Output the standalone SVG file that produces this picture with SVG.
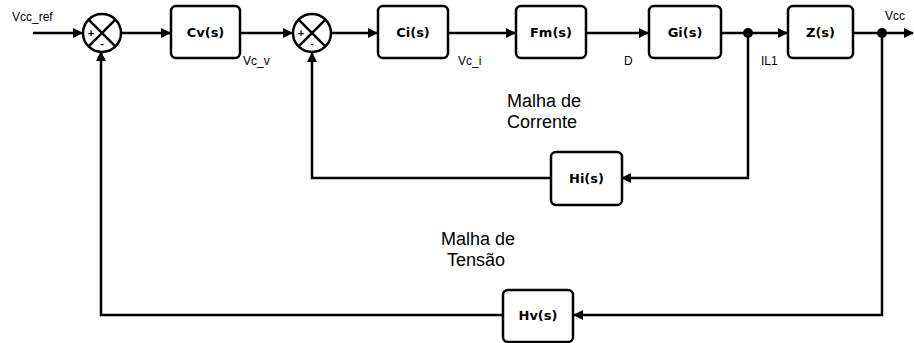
<svg xmlns="http://www.w3.org/2000/svg" width="914" height="343" viewBox="0 0 914 343">
<defs>
<style>
.box{fill:#fff;stroke:#000;stroke-width:2.5}
.sum{fill:#fff;stroke:#000;stroke-width:2.5}
.ln{fill:none;stroke:#000;stroke-width:2.5}
.bl{font-family:"DejaVu Sans",Verdana,sans-serif;font-weight:bold;font-size:13px;text-anchor:middle;fill:#000}
.sl{font-family:"Liberation Sans",Arial,sans-serif;font-size:12px;fill:#000}
.big{font-family:"Liberation Sans",Arial,sans-serif;font-size:18px;fill:#000}
.sign{font-family:"Liberation Sans",Arial,sans-serif;font-weight:bold;font-size:11px;text-anchor:middle;fill:#000}
</style>
<marker id="ah" markerWidth="10" markerHeight="10" refX="9" refY="5" orient="auto" markerUnits="userSpaceOnUse">
<path d="M0,0 L10,5 L0,10 Z" fill="#000"/>
</marker>
</defs>
<rect width="914" height="343" fill="#fff"/>

<g id="connectors">
<line class="ln" x1="33" y1="33" x2="82" y2="33" marker-end="url(#ah)"/>
<line class="ln" x1="121" y1="33" x2="170" y2="33" marker-end="url(#ah)"/>
<line class="ln" x1="240" y1="33" x2="292" y2="33" marker-end="url(#ah)"/>
<line class="ln" x1="332" y1="33" x2="377" y2="33" marker-end="url(#ah)"/>
<line class="ln" x1="448" y1="33" x2="515" y2="33" marker-end="url(#ah)"/>
<line class="ln" x1="586" y1="33" x2="648" y2="33" marker-end="url(#ah)"/>
<line class="ln" x1="721" y1="33" x2="787" y2="33" marker-end="url(#ah)"/>
<line class="ln" x1="853" y1="33" x2="913" y2="33" marker-end="url(#ah)"/>
<polyline class="ln" points="748,33 748,178 622,178" marker-end="url(#ah)"/>
<polyline class="ln" points="551,178 312,178 312,53" marker-end="url(#ah)"/>
<polyline class="ln" points="882,33 882,315 574,315" marker-end="url(#ah)"/>
<polyline class="ln" points="503,315 101,315 101,52" marker-end="url(#ah)"/>
<circle cx="748" cy="33" r="5" fill="#000"/>
<circle cx="882" cy="33" r="5" fill="#000"/>
</g>

<g id="sum1">
<circle class="sum" cx="102" cy="33" r="19"/>
<line class="ln" x1="88.6" y1="19.6" x2="115.4" y2="46.4"/>
<line class="ln" x1="115.4" y1="19.6" x2="88.6" y2="46.4"/>
<text class="sign" x="91" y="37">+</text>
<text class="sign" x="102" y="47">-</text>
</g>
<g id="sum2">
<circle class="sum" cx="312" cy="33" r="19"/>
<line class="ln" x1="298.6" y1="19.6" x2="325.4" y2="46.4"/>
<line class="ln" x1="325.4" y1="19.6" x2="298.6" y2="46.4"/>
<text class="sign" x="301" y="37">+</text>
<text class="sign" x="312" y="47">-</text>
</g>

<g id="cv"><rect class="box" x="171" y="6" width="69" height="52" rx="5"/><text class="bl" x="205.5" y="37">Cv(s)</text></g>
<g id="ci"><rect class="box" x="378" y="6" width="70" height="52" rx="5"/><text class="bl" x="413" y="37">Ci(s)</text></g>
<g id="fm"><rect class="box" x="516" y="6" width="70" height="52" rx="5"/><text class="bl" x="551" y="37">Fm(s)</text></g>
<g id="gi"><rect class="box" x="649" y="6" width="72" height="52" rx="5"/><text class="bl" x="685" y="37">Gi(s)</text></g>
<g id="z"><rect class="box" x="788" y="6" width="65" height="52" rx="5"/><text class="bl" x="820.5" y="37">Z(s)</text></g>
<g id="hi"><rect class="box" x="551" y="152" width="71" height="53" rx="5"/><text class="bl" x="586.5" y="183">Hi(s)</text></g>
<g id="hv"><rect class="box" x="503" y="290" width="70" height="52" rx="5"/><text class="bl" x="538" y="320">Hv(s)</text></g>

<g id="labels">
<text class="sl" x="12" y="21">Vcc_ref</text>
<text class="sl" x="243" y="65">Vc_v</text>
<text class="sl" x="458" y="65">Vc_i</text>
<text class="sl" x="624" y="65">D</text>
<text class="sl" x="761" y="65">IL1</text>
<text class="sl" x="885" y="20">Vcc</text>
<text class="big" x="507" y="107">Malha de</text>
<text class="big" x="507" y="128">Corrente</text>
<text class="big" x="441" y="245">Malha de</text>
<text class="big" x="447" y="266">Tensão</text>
</g>
</svg>
